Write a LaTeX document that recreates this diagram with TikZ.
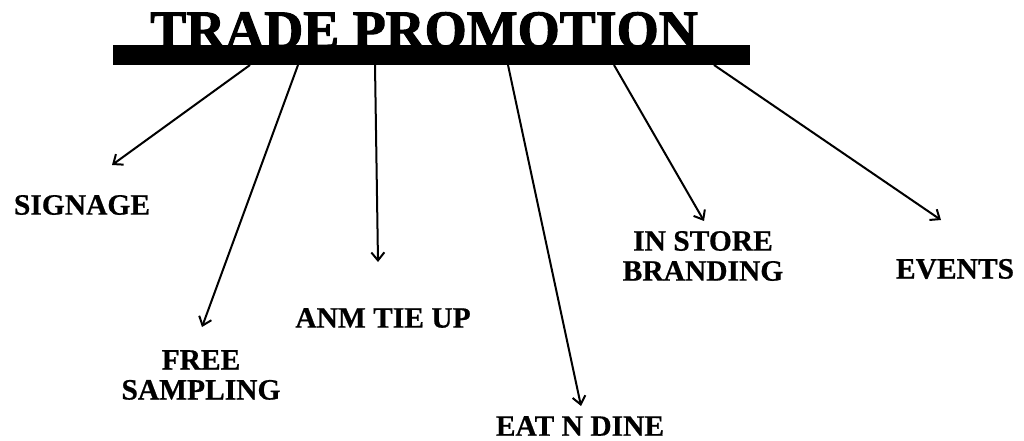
\documentclass[tikz,border=0pt]{standalone}
\usepackage{fontspec}
\setmainfont{Liberation Serif}
\newfontfamily\titlefont[BoldFeatures={FakeBold=2}]{Liberation Serif}
\newfontfamily\labelfont[BoldFeatures={FakeBold=0.6}]{Liberation Serif}
\usetikzlibrary{arrows.meta}
\begin{document}
\begin{tikzpicture}[x=1pt,y=-1pt,
  lbl/.style={font=\labelfont\bfseries\fontsize{29.5}{30}\selectfont, align=center, inner sep=0pt},
  conn/.style={line width=2pt, -{Straight Barb[length=8pt,width=13pt,line width=2pt]}}]
\useasboundingbox[fill=white] (0,0) rectangle (1024,441);
\node[fill=black, minimum width=637pt, minimum height=20pt, inner sep=0pt, anchor=north west] (bar) at (113,45) {};
\node[font=\titlefont\bfseries\fontsize{54}{56}\selectfont, anchor=base, inner sep=0pt] (title) at (424,48) {TRADE PROMOTION};
% start points on bar
\coordinate (s1) at (250,65);
\coordinate (s2) at (298,65);
\coordinate (s3) at (375,65);
\coordinate (s4) at (508,65);
\coordinate (s5) at (614,65);
\coordinate (s6) at (714,65);
% tips
\coordinate (t1) at (112,165);
\coordinate (t2) at (202,327);
\coordinate (t3) at (378,262);
\coordinate (t4) at (581,406);
\coordinate (t5) at (704,221);
\coordinate (t6) at (941,220);
\node[lbl] (signage) at (82,205) {SIGNAGE};
\node[lbl] (free) at (201,375) {FREE\\SAMPLING};
\node[lbl] (anm) at (383,318) {ANM TIE UP};
\node[lbl] (eat) at (580,426) {EAT N DINE};
\node[lbl] (store) at (703,256) {IN STORE\\BRANDING};
\node[lbl] (events) at (955,269) {EVENTS};
\draw[conn] (s1) -- (t1);
\draw[conn] (s2) -- (t2);
\draw[conn] (s3) -- (t3);
\draw[conn] (s4) -- (t4);
\draw[conn] (s5) -- (t5);
\draw[conn] (s6) -- (t6);
\end{tikzpicture}
\end{document}
